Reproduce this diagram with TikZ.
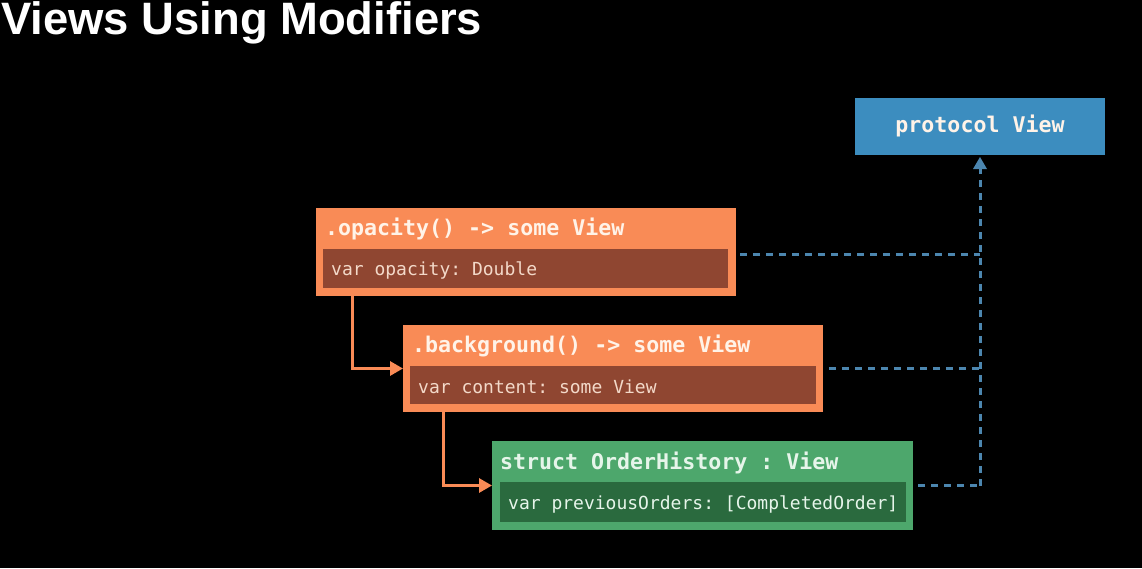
\documentclass[tikz,border=0pt]{standalone}
\usepackage{fontspec}
\setmainfont{Liberation Sans}
\setmonofont{DejaVu Sans Mono}
\usetikzlibrary{arrows.meta}
\definecolor{orangebox}{HTML}{F98B56}
\definecolor{orangein}{HTML}{8F4631}
\definecolor{greenbox}{HTML}{4DA76C}
\definecolor{greenin}{HTML}{2A6A3E}
\definecolor{bluebox}{HTML}{3C8DBF}
\definecolor{dashblue}{HTML}{4C86AF}
\definecolor{titletxt}{HTML}{FFF3E8}
\definecolor{intxt}{HTML}{F3D9C9}
\definecolor{greentxt}{HTML}{E6F5EA}
\tikzset{
  x=1pt, y=-1pt,
  outerbox/.style={anchor=north west, inner sep=0pt, outer sep=0pt},
  innerbox/.style={anchor=north west, inner sep=0pt, outer sep=0pt},
  boxtitle/.style={anchor=west, inner sep=0pt, text=titletxt, font=\fontsize{21.6}{22}\selectfont\ttfamily\bfseries},
  boxfield/.style={anchor=west, inner sep=0pt, font=\fontsize{18}{18}\selectfont\ttfamily},
  conn/.style={draw=orangebox, line width=3pt, -{Triangle[width=14pt,length=13pt]}},
  dashconn/.style={draw=dashblue, line width=3pt, dash pattern=on 7pt off 6pt},
}
\begin{document}
\begin{tikzpicture}
\fill[black] (0,0) rectangle (1142,568);
\useasboundingbox (0,0) rectangle (1142,568);

\node[anchor=west, inner sep=0pt, text=white, font=\fontsize{45.4}{46}\selectfont\bfseries] (title) at (1,23) {Views Using Modifiers};

% protocol View
\node[outerbox, fill=bluebox, minimum width=250pt, minimum height=57pt] (prot) at (855,98) {};
\node[inner sep=0pt, text=titletxt, font=\fontsize{21.6}{22}\selectfont\ttfamily\bfseries] (prottxt) at ([yshift=1pt]prot.center) {protocol View};

% opacity
\node[outerbox, fill=orangebox, minimum width=420pt, minimum height=88pt] (op) at (316,208) {};
\node[innerbox, fill=orangein, minimum width=405pt, minimum height=39pt] (opin) at (323,249) {};
\node[boxtitle] (optitle) at (325,229) {.opacity() -> some View};
\node[boxfield, text=intxt] (opfield) at (331,270) {var opacity: Double};

% background
\node[outerbox, fill=orangebox, minimum width=420pt, minimum height=87pt] (bg) at (403,325) {};
\node[innerbox, fill=orangein, minimum width=406pt, minimum height=38pt] (bgin) at (410,366) {};
\node[boxtitle] (bgtitle) at (412,346) {.background() -> some View};
\node[boxfield, text=intxt] (bgfield) at (418,387) {var content: some View};

% OrderHistory
\node[outerbox, fill=greenbox, minimum width=421pt, minimum height=89pt] (gr) at (492,441) {};
\node[innerbox, fill=greenin, minimum width=406pt, minimum height=40pt] (grin) at (500,482) {};
\node[boxtitle, text=greentxt] (grtitle) at (500,463) {struct OrderHistory : View};
\node[boxfield, text=greentxt] (grfield) at (508,504) {var previousOrders: [CompletedOrder]};

% orange connectors
\draw[conn] ([xshift=36pt]op.south west) |- (bg.west);
\draw[conn] ([xshift=40pt]bg.south west) |- (gr.west);

% dashed connectors
\coordinate (jop) at ([yshift=-2pt]prot.south |- op.east);
\coordinate (jbg) at (prot.south |- bg.east);
\coordinate (jgr) at (prot.south |- gr.east);
\draw[dashconn, shorten <=4pt] ([yshift=-2pt]op.east) -- (jop);
\draw[dashconn, shorten <=6pt] (bg.east) -- (jbg);
\draw[dashconn, shorten <=5pt] (gr.east) -- (jgr);
\draw[dashconn] (jgr) -- ([yshift=-13pt]prot.south);
\fill[dashblue] ([yshift=-2pt]prot.south) -- ([xshift=-7pt,yshift=-14pt]prot.south) -- ([xshift=7pt,yshift=-14pt]prot.south) -- cycle;
\end{tikzpicture}
\end{document}
